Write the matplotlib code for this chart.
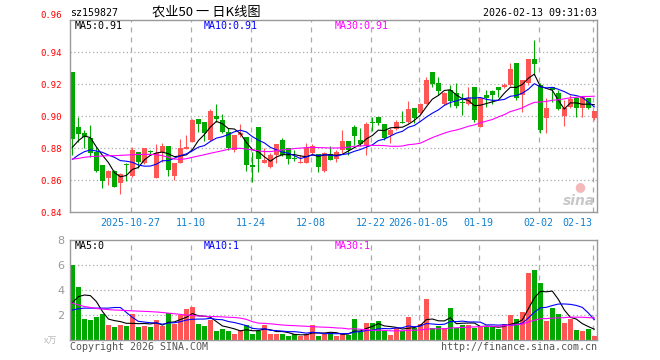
import numpy as np
import pandas as pd
import matplotlib
matplotlib.use("agg")
import matplotlib.pyplot as plt

# daily candles, index 0 = 2025-10-13 ... index 87 = 2026-02-13
open_ = [0.9275, 0.8929, 0.8896, 0.8860, 0.8777, 0.8694, 0.8610, 0.8656, 0.8583, 0.8700,
         0.8625, 0.8777, 0.8704, 0.8780, 0.8615, 0.8777, 0.8813, 0.8627, 0.8708, 0.8792,
         0.8840, 0.8981, 0.8962, 0.8850, 0.9000, 0.8975, 0.8902, 0.8788, 0.8881, 0.8871,
         0.8694, 0.8929, 0.8708, 0.8683, 0.8756, 0.8850, 0.8798, 0.8735, 0.8708, 0.8708,
         0.8767, 0.8763, 0.8658, 0.8763, 0.8729, 0.8788, 0.8846, 0.8929, 0.8850, 0.8813,
         0.8965, 0.8996, 0.8950, 0.8881, 0.8917, 0.8965, 0.8965, 0.9048, 0.9017, 0.9075,
         0.9273, 0.9204, 0.9075, 0.9163, 0.9142, 0.9085, 0.9075, 0.9183, 0.8933, 0.9131,
         0.9156, 0.9179, 0.9179, 0.9194, 0.9329, 0.9131, 0.9204, 0.9354, 0.9194, 0.8985,
         0.9179, 0.9146, 0.9000, 0.9058, 0.9110, 0.9048, 0.9110, 0.8985]
high = [0.9277, 0.8996, 0.8913, 0.8944, 0.8808, 0.8694, 0.8663, 0.8663, 0.8646, 0.8704,
        0.8804, 0.8777, 0.8798, 0.8785, 0.8825, 0.8829, 0.8813, 0.8708, 0.8854, 0.8881,
        0.8981, 0.8981, 0.8962, 0.9044, 0.9073, 0.9013, 0.8923, 0.8881, 0.8950, 0.8871,
        0.8777, 0.8929, 0.8798, 0.8767, 0.8825, 0.8860, 0.8798, 0.8787, 0.8756, 0.8829,
        0.8825, 0.8763, 0.8777, 0.8813, 0.8788, 0.8912, 0.8846, 0.8944, 0.8923, 0.8965,
        0.8992, 0.8996, 0.8950, 0.8923, 0.8975, 0.9033, 0.9094, 0.9048, 0.9079, 0.9246,
        0.9273, 0.9246, 0.9152, 0.9194, 0.9204, 0.9142, 0.9179, 0.9183, 0.9121, 0.9163,
        0.9163, 0.9179, 0.9204, 0.9329, 0.9329, 0.9225, 0.9354, 0.9475, 0.9204, 0.9110,
        0.9179, 0.9163, 0.9100, 0.9131, 0.9121, 0.9121, 0.9110, 0.9031]
low = [0.8756, 0.8840, 0.8798, 0.8746, 0.8652, 0.8552, 0.8569, 0.8554, 0.8510, 0.8594,
       0.8620, 0.8673, 0.8700, 0.8765, 0.8610, 0.8715, 0.8627, 0.8600, 0.8704, 0.8792,
       0.8840, 0.8902, 0.8846, 0.8846, 0.8965, 0.8892, 0.8788, 0.8773, 0.8871, 0.8658,
       0.8590, 0.8652, 0.8704, 0.8677, 0.8708, 0.8750, 0.8700, 0.8721, 0.8704, 0.8704,
       0.8756, 0.8652, 0.8652, 0.8725, 0.8710, 0.8769, 0.8756, 0.8819, 0.8813, 0.8756,
       0.8908, 0.8944, 0.8850, 0.8829, 0.8913, 0.8958, 0.8958, 0.8954, 0.9006, 0.9075,
       0.9180, 0.9131, 0.9069, 0.9058, 0.9048, 0.9006, 0.9069, 0.8965, 0.8929, 0.9058,
       0.9075, 0.9121, 0.9173, 0.9188, 0.9100, 0.9027, 0.9194, 0.9256, 0.8892, 0.8892,
       0.9090, 0.9038, 0.8938, 0.9048, 0.8992, 0.8996, 0.9044, 0.8975]
close = [0.8854, 0.8885, 0.8871, 0.8767, 0.8656, 0.8596, 0.8656, 0.8558, 0.8635, 0.8696,
         0.8787, 0.8715, 0.8798, 0.8775, 0.8771, 0.8813, 0.8663, 0.8708, 0.8798, 0.8804,
         0.8975, 0.8948, 0.8896, 0.9033, 0.8979, 0.8902, 0.8798, 0.8881, 0.8896, 0.8694,
         0.8683, 0.8729, 0.8725, 0.8756, 0.8825, 0.8756, 0.8729, 0.8729, 0.8715, 0.8798,
         0.8815, 0.8683, 0.8771, 0.8725, 0.8777, 0.8846, 0.8788, 0.8875, 0.8825, 0.8950,
         0.8954, 0.8954, 0.8860, 0.8912, 0.8965, 0.8958, 0.9044, 0.8985, 0.9075, 0.9225,
         0.9198, 0.9158, 0.9142, 0.9096, 0.9063, 0.9079, 0.9110, 0.8975, 0.9110, 0.9115,
         0.9131, 0.9163, 0.9194, 0.9294, 0.9110, 0.9225, 0.9354, 0.9325, 0.8913, 0.9048,
         0.9163, 0.9044, 0.9048, 0.9106, 0.9048, 0.9121, 0.9048, 0.9031]
volume = [6.0, 4.27, 1.68, 1.6, 1.81, 2.08, 1.2, 1.07, 1.2, 1.12,
          2.08, 1.07, 1.12, 1.04, 1.6, 1.12, 2.19, 1.28, 2.0, 2.48,
          2.64, 1.28, 1.12, 1.6, 0.75, 0.88, 0.75, 0.48, 0.8, 1.2,
          0.48, 0.75, 1.2, 0.48, 0.48, 0.48, 0.32, 0.48, 0.32, 0.48,
          1.2, 0.32, 0.48, 0.6, 0.34, 0.55, 0.4, 1.66, 0.66, 1.34,
          1.39, 1.5, 0.74, 0.4, 1.0, 0.74, 1.82, 1.0, 1.26, 3.32,
          1.0, 1.1, 0.95, 2.53, 0.95, 1.18, 1.18, 0.95, 1.13, 1.08,
          1.08, 0.87, 1.26, 1.97, 1.66, 2.24, 5.34, 5.6, 4.6, 1.5,
          2.53, 2.05, 1.34, 1.66, 0.79, 0.71, 0.87, 0.29]

# moving-average values shown before there is enough history in the window
ma5_head = [0.8804, 0.8846, 0.8875, 0.8865]
ma10_head = [0.8729, 0.8756, 0.8777, 0.8788, 0.8781, 0.8773, 0.8756, 0.8742, 0.8721]
ma30_head = [0.8731, 0.8735, 0.8742, 0.8746, 0.8748, 0.8750, 0.8752, 0.8752, 0.8754, 0.8756,
             0.8758, 0.8760, 0.8760, 0.8760, 0.8758, 0.8752, 0.8742, 0.8731, 0.8729, 0.8733,
             0.8742, 0.8750, 0.8758, 0.8767, 0.8775, 0.8783, 0.8792, 0.8798, 0.8798]
vol_ma5_head = [2.99, 3.47, 3.6, 3.55]
vol_ma10_head = [2.4, 2.5, 2.55, 2.55, 2.55, 2.55, 2.55, 2.6, 2.6]
vol_ma30_head = [2.95, 2.8, 2.68, 2.6, 2.52, 2.47, 2.43, 2.4, 2.38, 2.36,
                 2.33, 2.31, 2.29, 2.27, 2.24, 2.2, 2.15, 2.1, 2.05, 2.0,
                 1.96, 1.92, 1.9, 1.88, 1.87, 1.85, 1.82, 1.8, 1.75]

date_pos = [10, 20, 30, 40, 50, 58, 68, 78, 87]
date_labels = ["2025-10-27", "11-10", "11-24", "12-08", "12-22",
               "2026-01-05", "01-19", "02-02", "02-13"]

RED = "#ff5555"
GREEN = "#00a800"
GRID = "#aaaaaa"
MONO = "DejaVu Sans Mono"


def moving(values, n, head):
    s = pd.Series(values).rolling(n).mean().to_numpy()
    s[:len(head)] = head
    return s


W, H = 660, 360


def box(left, top, right, bottom):
    return [left / W, 1 - bottom / H, (right - left) / W, (bottom - top) / H]


fig = plt.figure(figsize=(6.6, 3.6), dpi=100)
ax = fig.add_axes(box(70, 20, 597, 212))
axv = fig.add_axes(box(70, 240, 597, 340))

o = np.array(open_)
c = np.array(close)
x = np.arange(len(c))
colors = np.where(c >= o, RED, GREEN)

ax.vlines(x, low, high, colors=colors, linewidth=0.8, zorder=2)
ax.bar(x, np.maximum(np.abs(c - o), 0.0003), bottom=np.minimum(o, c),
       width=0.78, color=colors, linewidth=0, zorder=2)
ax.plot(x, moving(close, 5, ma5_head), color="black", lw=0.8, zorder=3)
ax.plot(x, moving(close, 10, ma10_head), color="blue", lw=0.8, zorder=3)
ax.plot(x, moving(close, 30, ma30_head), color="magenta", lw=0.8, zorder=3)

axv.bar(x, volume, width=0.78, color=colors, linewidth=0, zorder=2)
axv.plot(x, moving(volume, 5, vol_ma5_head), color="black", lw=0.8, zorder=3)
axv.plot(x, moving(volume, 10, vol_ma10_head), color="blue", lw=0.8, zorder=3)
axv.plot(x, moving(volume, 30, vol_ma30_head), color="magenta", lw=0.8, zorder=3)

grid_x = [p - 0.3 for p in date_pos]
for a in (ax, axv):
    a.set_xlim(-0.4, 87.45)
    for s in a.spines.values():
        s.set_color("#999999")
        s.set_linewidth(1)
    for gx in grid_x:
        a.axvline(gx, color=GRID, lw=0.9, ls=(0, (4, 4)), zorder=1)

ax.set_ylim(0.84, 0.96)
ax.set_yticks(np.arange(0.84, 0.961, 0.02))
ax.set_yticklabels([f"{v:.2f}" for v in np.arange(0.84, 0.961, 0.02)],
                   color="red", family=MONO, fontsize=6.5)
ax.get_yticklabels()[-1].set_verticalalignment("bottom")
for v in np.arange(0.86, 0.95, 0.02):
    ax.axhline(v, color=GRID, lw=0.9, ls=(0, (1, 2)), zorder=1)
ax.set_xticks(grid_x)
ax.set_xticklabels(date_labels, color="#1080d0", family=MONO, fontsize=7.2)
ax.get_xticklabels()[-1].set_horizontalalignment("right")
ax.tick_params(length=0, pad=4)
ax.tick_params(axis="y", pad=6)

axv.set_ylim(0, 8)
axv.set_yticks([2, 4, 6, 8])
axv.set_yticklabels(["2", "4", "6", "8"], color="#999999", fontsize=8)
for v in (2, 4, 6):
    axv.axhline(v, color=GRID, lw=0.9, ls=(0, (1, 2)), zorder=1)
axv.set_xticks([])
axv.tick_params(length=0, pad=4)


def put(px, py, s, **kw):
    kw.setdefault("family", MONO)
    kw.setdefault("fontsize", 7.2)
    kw.setdefault("va", "center")
    fig.text(px / W, 1 - py / H, s, **kw)


put(70, 13, "sz159827")
put(206, 12, "农业50 一 日K线图", ha="center", fontsize=9.5,
    family=["Noto Sans CJK SC", "DejaVu Sans"])
put(597, 13, "2026-02-13 09:31:03", ha="right")
put(75, 26, "MA5:0.91", color="black")
put(204, 26, "MA10:0.91", color="blue")
put(335, 26, "MA30:0.91", color="magenta")
put(75, 246, "MA5:0", color="black")
put(204, 246, "MA10:1", color="blue")
put(335, 246, "MA30:1", color="magenta")
put(70, 347, "Copyright 2026 SINA.COM", color="#555555")
put(597, 347, "http://finance.sina.com.cn", ha="right", color="#555555")
put(57, 341, "x万", ha="right", color="#bbbbbb", fontsize=6.5,
    family=["Noto Sans CJK SC", "DejaVu Sans"])
put(595, 201, "sina", ha="right", color="#c8c8c8", fontsize=10,
    family="DejaVu Sans", style="italic", weight="bold")
put(580, 187, "●", ha="center", color="#f4b8b8", fontsize=9, family="DejaVu Sans")

fig.savefig("out.png", dpi=100)
